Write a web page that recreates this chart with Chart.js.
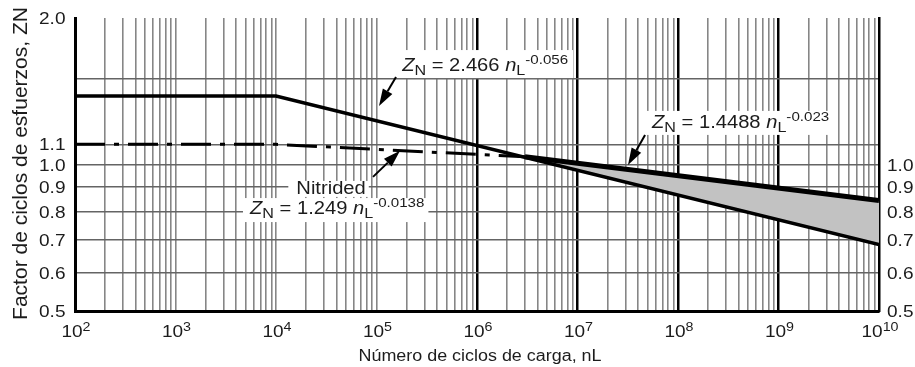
<!DOCTYPE html>
<html>
<head>
<meta charset="utf-8">
<script src="https://cdn.jsdelivr.net/npm/chart.js@4.4.1/dist/chart.umd.min.js"></script>
<style>
  html, body { margin: 0; padding: 0; background: #fff; overflow: hidden; }
  #wrap { width: 915px; height: 367px; position: relative; }
</style>
</head>
<body>
<div id="wrap"><canvas id="c" width="915" height="367"></canvas></div>
<script>
// Stress-cycle factor Z_N against number of load cycles n_L
const cyclesSteel = [1e2, 1e4, 1e10];
const znSteel = [1.383, 1.383, 0.685];          // Z_N = 2.466 n_L^-0.056
const cyclesNitrided = [1e2, 1e4, 3e6];
const znNitrided = [1.1, 1.1, 1.037];           // Nitrided, Z_N = 1.249 n_L^-0.0138
const cyclesUpper = [3e6, 1e10];
const znUpper = [1.037, 0.843];                 // Z_N = 1.4488 n_L^-0.023
const znBandLower = [1.037, 0.685];             // lower edge of the shaded band

// Axis ticks
const xDecades = [2, 3, 4, 5, 6, 7, 8, 9, 10];
const yTicksLeft = [2.0, 1.1, 1.0, 0.9, 0.8, 0.7, 0.6, 0.5];
const yTicksRight = [1.0, 0.9, 0.8, 0.7, 0.6, 0.5];
const yGridValues = [0.5, 0.6, 0.7, 0.8, 0.9, 1.0, 1.1, 1.5, 2.0];

const xTitle = 'Número de ciclos de carga, nL';
const yTitle = 'Factor de ciclos de esfuerzos, ZN';

// Equation labels, anchored in data units (x = cycles, y = Z_N baseline)
const notes = [
  { x: 1.8e5, y: 1.556, align: 'left', pad: [21, 5, 7, 4],
    parts: [['Z', 'i'], ['N', 'sub'], [' = 2.466 '], ['n', 'i'], ['L', 'sub'], ['-0.056', 'sup']] },
  { x: 3.53e4, y: 0.870, align: 'center', pad: [13, 3, 3, 8],
    parts: [['Nitrided']] },
  { x: 5.51e3, y: 0.791, align: 'left', pad: [16, 4, 8, 7],
    parts: [['Z', 'i'], ['N', 'sub'], [' = 1.249 '], ['n', 'i'], ['L', 'sub'], ['-0.0138', 'sup']] },
  { x: 5.51e7, y: 1.189, align: 'left', pad: [17, 6, 7, 7],
    parts: [['Z', 'i'], ['N', 'sub'], [' = 1.4488 '], ['n', 'i'], ['L', 'sub'], ['-0.023', 'sup']] }
];
const arrows = [
  { from: [1.563e5, 1.513], to: [1.059e5, 1.319] },
  { from: [9.23e4, 0.943], to: [1.714e5, 1.067] },
  { from: [4.70e7, 1.150], to: [3.18e7, 0.998] }
];

const SANS = '"Liberation Sans", Arial, Helvetica, sans-serif';
const TEXT = '#1c1c1c';
const HS = 1.12;   // horizontal widening of the lettering

function fontOf(size, italic) {
  return (italic ? 'italic ' : '') + size.toFixed(2) + 'px ' + SANS;
}

function layoutRich(ctx, parts, size, o) {
  let w = 0;
  const items = [];
  for (const [t, kind] of parts) {
    const small = kind === 'sub' || kind === 'sup';
    const s = small ? size * (kind === 'sub' ? o.subScale : o.supScale) : size;
    const f = fontOf(s, kind === 'i');
    ctx.font = f;
    const tw = ctx.measureText(t).width;
    const dy = kind === 'sub' ? size * o.subDrop : kind === 'sup' ? -size * o.supRaise : 0;
    items.push({ t, f, x: w, dy });
    w += tw;
  }
  return { items, width: w * HS };
}

function richStart(x, width, align) {
  return align === 'center' ? x - width / 2 : align === 'right' ? x - width : x;
}

function drawRichAt(ctx, L, x0, y) {
  ctx.save();
  ctx.translate(x0, y);
  ctx.scale(HS, 1);
  ctx.fillStyle = TEXT;
  ctx.textAlign = 'left';
  ctx.textBaseline = 'alphabetic';
  for (const it of L.items) {
    ctx.font = it.f;
    ctx.fillText(it.t, it.x, it.dy);
  }
  ctx.restore();
}

const noteStyle = { subScale: 0.8, subDrop: 0.2, supScale: 0.75, supRaise: 0.38 };
const tickStyle = { subScale: 0.8, subDrop: 0.2, supScale: 0.75, supRaise: 0.33 };

function drawArrow(ctx, x1, y1, x2, y2) {
  const ang = Math.atan2(y2 - y1, x2 - x1);
  const head = 17, half = 5.5;
  const bx = x2 - head * Math.cos(ang), by = y2 - head * Math.sin(ang);
  ctx.save();
  ctx.strokeStyle = '#000';
  ctx.fillStyle = '#000';
  ctx.lineWidth = 2;
  ctx.beginPath();
  ctx.moveTo(x1, y1);
  ctx.lineTo(bx, by);
  ctx.stroke();
  ctx.beginPath();
  ctx.moveTo(x2, y2);
  ctx.lineTo(bx + half * Math.sin(ang), by - half * Math.cos(ang));
  ctx.lineTo(bx - half * Math.sin(ang), by + half * Math.cos(ang));
  ctx.closePath();
  ctx.fill();
  ctx.restore();
}

const lettering = {
  id: 'lettering',
  afterDraw(chart) {
    const ctx = chart.ctx;
    const xs = chart.scales.x, ys = chart.scales.y;

    // x tick labels: 10 with the exponent raised
    const xTick = 17;
    for (const d of xDecades) {
      const L = layoutRich(ctx, [['10'], [String(d), 'sup']], xTick, tickStyle);
      const px = xs.getPixelForValue(Math.pow(10, d)) + 1;
      drawRichAt(ctx, L, richStart(px, L.width, 'center'), 336.5);
    }

    // y tick labels, left and right
    const yTick = 17;
    for (const v of yTicksLeft) {
      const L = layoutRich(ctx, [[v.toFixed(1)]], yTick, tickStyle);
      const py = ys.getPixelForValue(v);
      drawRichAt(ctx, L, richStart(chart.chartArea.left - 9.5, L.width, 'right'), py + yTick * 0.36);
    }
    for (const v of yTicksRight) {
      const L = layoutRich(ctx, [[v.toFixed(1)]], yTick, tickStyle);
      const py = ys.getPixelForValue(v);
      drawRichAt(ctx, L, chart.chartArea.right + 8, py + yTick * 0.36);
    }

    // axis titles
    const tx = layoutRich(ctx, [[xTitle]], 16, tickStyle);
    drawRichAt(ctx, tx, richStart((chart.chartArea.left + chart.chartArea.right) / 2 + 3, tx.width, 'center'), 361);

    ctx.save();
    ctx.translate(27, (chart.chartArea.top + chart.chartArea.bottom) / 2 - 1);
    ctx.rotate(-Math.PI / 2);
    ctx.font = fontOf(21, false);
    ctx.fillStyle = TEXT;
    ctx.textAlign = 'center';
    ctx.textBaseline = 'alphabetic';
    ctx.fillText(yTitle, 0, 0);
    ctx.restore();

    // equation labels on white boxes
    const laid = notes.map(n => {
      const L = layoutRich(ctx, n.parts, 18, noteStyle);
      const px = xs.getPixelForValue(n.x), py = ys.getPixelForValue(n.y);
      return { L, x0: richStart(px, L.width, n.align), y: py, pad: n.pad };
    });
    ctx.save();
    ctx.fillStyle = '#fff';
    for (const a of laid) {
      const [t, r, b, l] = a.pad;
      ctx.fillRect(a.x0 - l, a.y - t, a.L.width + l + r, t + b);
    }
    ctx.restore();
    for (const a of laid) drawRichAt(ctx, a.L, a.x0, a.y);

    for (const ar of arrows) {
      drawArrow(ctx,
        xs.getPixelForValue(ar.from[0]), ys.getPixelForValue(ar.from[1]),
        xs.getPixelForValue(ar.to[0]), ys.getPixelForValue(ar.to[1]));
    }
  }
};

function pts(xa, ya) { return xa.map((x, i) => ({ x, y: ya[i] })); }
function isDecade(v) { const e = Math.log10(v); return Math.abs(e - Math.round(e)) < 1e-9; }

const xGridValues = [];
for (let d = 2; d < 10; d++) for (let k = 1; k <= 9; k++) xGridValues.push(k * Math.pow(10, d));
xGridValues.push(1e10);

new Chart(document.getElementById('c'), {
  type: 'line',
  data: {
    datasets: [
      { label: 'ZN = 2.466 nL^-0.056', data: pts(cyclesSteel, znSteel),
        borderColor: '#000', borderWidth: 3.5, fill: false },
      { label: 'ZN = 1.4488 nL^-0.023', data: pts(cyclesUpper, znUpper),
        borderColor: '#000', borderWidth: 5, fill: false },
      { label: 'Nitrided ZN = 1.249 nL^-0.0138', data: pts(cyclesNitrided, znNitrided),
        borderColor: '#000', borderWidth: 3, borderDash: [30, 9, 5, 9], fill: false },
      { label: 'band', data: pts(cyclesUpper, znUpper),
        borderColor: 'rgba(0,0,0,0)', borderWidth: 1, backgroundColor: '#c2c2c2', fill: '+1' },
      { label: 'band lower', data: pts(cyclesUpper, znBandLower),
        borderColor: 'rgba(0,0,0,0)', borderWidth: 1, fill: false }
    ]
  },
  options: {
    responsive: false,
    animation: false,
    events: [],
    layout: { padding: { top: 18, left: 0, right: 0, bottom: 0 } },
    elements: { point: { radius: 0 }, line: { tension: 0, borderJoinStyle: 'miter' } },
    plugins: { legend: { display: false }, tooltip: { enabled: false } },
    scales: {
      x: {
        type: 'logarithmic', position: 'bottom', min: 1e2, max: 1e10,
        afterBuildTicks: s => { s.ticks = xGridValues.map(v => ({ value: v })); },
        afterFit: s => { s.height = 56; },
        ticks: { display: false },
        grid: {
          drawTicks: false,
          color: c => {
            const v = c.tick.value;
            if (v <= 1e2 || v >= 1e10) return 'rgba(0,0,0,0)';
            if (isDecade(v) && v >= 1e6) return '#000';
            return '#868686';
          },
          lineWidth: c => (isDecade(c.tick.value) && c.tick.value >= 1e6 ? 2.5 : 1.6)
        },
        border: { display: true, color: '#000', width: 3 }
      },
      y: {
        type: 'logarithmic', position: 'left', min: 0.5, max: 2.0,
        afterBuildTicks: s => { s.ticks = yGridValues.map(v => ({ value: v })); },
        afterFit: s => { s.width = 75; },
        ticks: { display: false },
        grid: {
          drawTicks: false,
          color: c => (c.tick.value <= 0.5 || c.tick.value >= 2.0 ? 'rgba(0,0,0,0)' : '#646464'),
          lineWidth: 1.6
        },
        border: { display: true, color: '#000', width: 3 }
      },
      y2: {
        type: 'logarithmic', position: 'right', min: 0.5, max: 2.0,
        afterFit: s => { s.width = 36; },
        ticks: { display: false },
        grid: { display: false, drawTicks: false },
        border: { display: true, color: '#000', width: 2.5 }
      }
    }
  },
  plugins: [lettering]
});
</script>
</body>
</html>
